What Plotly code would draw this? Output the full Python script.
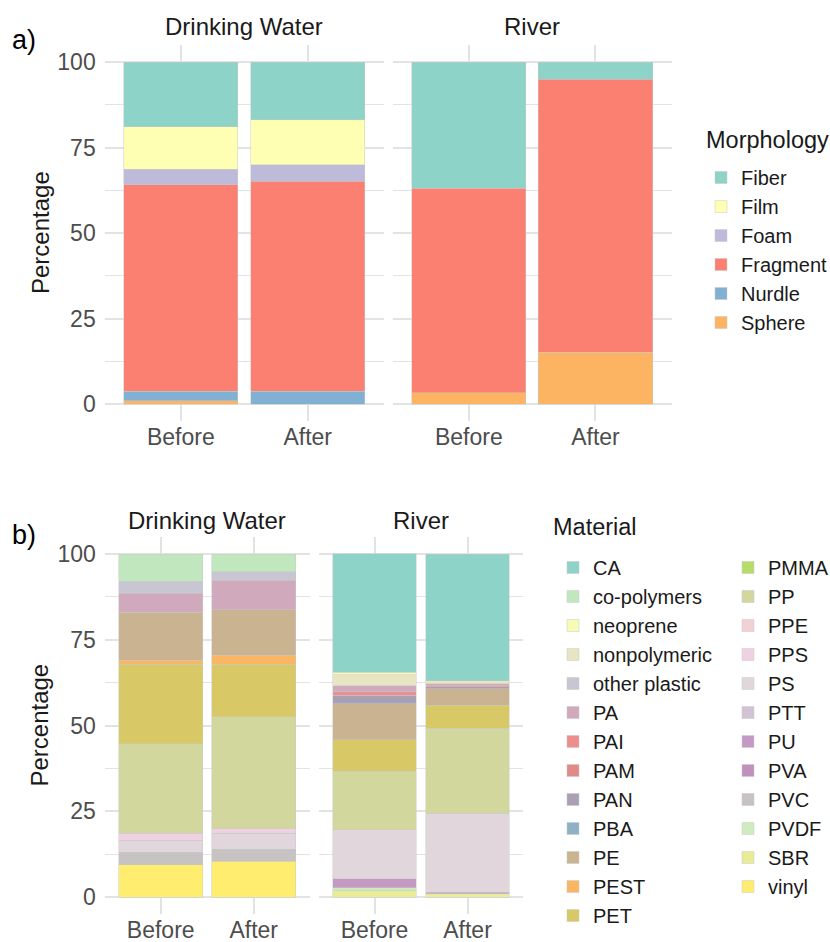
import plotly.graph_objects as go

# ---------------- data ----------------
FACETS = ["Drinking Water", "River"]
PERIODS = ["Before", "After"]
Y_TICKS = [0, 25, 50, 75, 100]

MORPH = ["Fiber", "Film", "Foam", "Fragment", "Nurdle", "Sphere"]
morph_dw_before = [19.0, 12.4, 4.5, 60.3, 2.8, 1.0]
morph_dw_after = [16.9, 13.2, 4.7, 61.5, 3.7, 0.0]
morph_river_before = [36.9, 0.0, 0.0, 59.8, 0.0, 3.3]
morph_river_after = [5.1, 0.0, 0.0, 79.8, 0.0, 15.1]

MATERIALS = ["CA", "co-polymers", "neoprene", "nonpolymeric", "other plastic", "PA", "PAI",
             "PAM", "PAN", "PBA", "PE", "PEST", "PET", "PMMA", "PP", "PPE", "PPS", "PS",
             "PTT", "PU", "PVA", "PVC", "PVDF", "SBR", "vinyl"]
#                  CA   co   neo  nonp oth  PA   PAI  PAM  PAN  PBA  PE    PEST PET   PMMA PP    PPE  PPS  PS    PTT  PU   PVA  PVC  PVDF SBR  vinyl
mat_dw_before =    [0.0, 8.0, 0.0, 0.0, 3.5, 5.5, 0.0, 0.0, 0.0, 0.0, 13.9, 1.2, 23.2, 0.0, 26.1, 0.0, 2.0, 3.6,  0.0, 0.0, 0.0, 3.6, 0.0, 0.0, 9.4]
mat_dw_after =     [0.0, 5.2, 0.0, 0.0, 2.4, 8.6, 0.0, 0.0, 0.0, 0.0, 13.3, 2.6, 15.3, 0.0, 32.7, 0.0, 1.3, 4.6,  0.0, 0.0, 0.0, 3.6, 0.0, 0.0, 10.4]
mat_river_before = [34.5, 0.0, 0.8, 3.2, 0.0, 1.7, 1.0, 0.0, 2.5, 0.0, 10.6, 0.0, 9.1, 0.0, 17.1, 0.0, 0.0, 14.3, 0.0, 2.6, 0.0, 0.0, 0.8, 1.9, 0.0]
mat_river_after =  [37.0, 0.0, 0.0, 0.8, 0.0, 0.5, 0.4, 0.0, 0.5, 0.0, 4.9, 0.0, 6.7, 0.0, 24.8, 0.0, 0.0, 23.0, 0.0, 0.5, 0.0, 0.0, 0.0, 0.9, 0.0]

# ---------------- styles ----------------
SET3 = ["#8DD3C7", "#FFFFB3", "#BEBADA", "#FB8072", "#80B1D3", "#FDB462",
        "#B3DE69", "#FCCDE5", "#D9D9D9", "#BC80BD", "#CCEBC5", "#FFED6F"]
MORPH_COLORS = SET3[:6]


def ramp(cols, n):
    rgb = [tuple(int(c[i:i + 2], 16) for i in (1, 3, 5)) for c in cols]
    out = []
    for k in range(n):
        pos = k * (len(rgb) - 1) / (n - 1)
        i = min(int(pos), len(rgb) - 2)
        f = pos - i
        c = [round(rgb[i][j] + (rgb[i + 1][j] - rgb[i][j]) * f) for j in range(3)]
        out.append("#%02X%02X%02X" % tuple(c))
    return out


MAT_COLORS = ramp(SET3, len(MATERIALS))

FONT = "Liberation Sans, Arial, Helvetica, sans-serif"
GRID = "#E3E3E3"
W, H = 830, 942


def px_x(p):                 # window pixel -> paper fraction
    return p / W


def px_y(p):
    return 1 - p / H


fig = go.Figure()

EDGE = dict(width=0.6, color="rgba(200,200,200,0.8)")


def add_group(names, colors, before_lists, axes, legends, splits=None):
    n = len(names)
    # add bottom-most category first so the first category ends up on top
    for idx in reversed(range(n)):
        for f, (xa, ya) in enumerate(axes):
            b = before_lists[f][0][idx]
            a = before_lists[f][1][idx]
            yv = [b if b > 0 else None, a if a > 0 else None]
            leg = legends[0] if (splits is None or idx < splits) else legends[1]
            fig.add_trace(go.Bar(
                x=PERIODS, y=yv, name=names[idx], xaxis=xa, yaxis=ya,
                marker=dict(color=colors[idx], line=EDGE),
                width=0.9, legendgroup=names[idx], showlegend=(f == 0),
                legend=leg, legendrank=idx + 1,
            ))


add_group(MORPH, MORPH_COLORS,
          [(morph_dw_before, morph_dw_after), (morph_river_before, morph_river_after)],
          [("x", "y"), ("x2", "y2")], ["legend"])
add_group(MATERIALS, MAT_COLORS,
          [(mat_dw_before, mat_dw_after), (mat_river_before, mat_river_after)],
          [("x3", "y3"), ("x4", "y4")], ["legend2", "legend3"], splits=13)

# panel geometry (window pixels)
ya_dom = [px_y(421.1), px_y(44.9)]
yb_dom = [px_y(914.2), px_y(536.9)]
x_doms = {
    "xaxis": [px_x(104.7), px_x(383.8)],
    "xaxis2": [px_x(392.8), px_x(671.5)],
    "xaxis3": [px_x(104.9), px_x(309.5)],
    "xaxis4": [px_x(318.7), px_x(523.3)],
}

TICKFONT = dict(family=FONT, size=23, color="#4D4D4D")
xcommon = dict(type="category", categoryorder="array", categoryarray=PERIODS,
               range=[-0.6, 1.6], showgrid=True, gridcolor=GRID, gridwidth=1.5,
               zeroline=False, showline=False, ticks="", ticklabelstandoff=0,
               automargin=False, tickfont=TICKFONT, fixedrange=True)
ycommon = dict(range=[-5, 105], tickvals=Y_TICKS, showgrid=True, gridcolor=GRID,
               gridwidth=1.5, zeroline=False, showline=False, ticks="",
               ticklabelstandoff=8, automargin=False,
               minor=dict(dtick=12.5, tick0=0, showgrid=True, gridcolor=GRID, gridwidth=1.2),
               tickfont=TICKFONT, fixedrange=True)

layout = dict(
    width=W, height=H, margin=dict(l=0, r=0, t=0, b=0, autoexpand=False),
    paper_bgcolor="white", plot_bgcolor="white",
    barmode="stack", bargap=0.1,
    font=dict(family=FONT, color="#1A1A1A"),
)
for i, (xk, dom) in enumerate(x_doms.items(), start=1):
    yk = "yaxis" if i == 1 else "yaxis%d" % i
    ydom = ya_dom if i <= 2 else yb_dom
    layout[xk] = dict(xcommon, domain=dom, anchor="y" if i == 1 else "y%d" % i)
    layout[yk] = dict(ycommon, domain=ydom, anchor="x" if i == 1 else "x%d" % i,
                      showticklabels=(i in (1, 3)))

LEGFONT = dict(family=FONT, size=20, color="#1A1A1A")
for key, xp, yp in (("legend", 701, 158), ("legend2", 553, 548), ("legend3", 728, 548)):
    layout[key] = dict(
        x=px_x(xp), y=px_y(yp), xanchor="left", yanchor="top",
        font=LEGFONT, bgcolor="rgba(0,0,0,0)",
        itemclick=False, itemdoubleclick=False, traceorder="normal",
    )

ann = []
# strip labels
for xk, yc in (("xaxis", 27), ("xaxis2", 27), ("xaxis3", 520), ("xaxis4", 520)):
    d = x_doms[xk]
    ann.append(dict(text=FACETS[0] if xk in ("xaxis", "xaxis3") else FACETS[1],
                    x=(d[0] + d[1]) / 2, y=px_y(yc), xref="paper", yref="paper",
                    showarrow=False, xanchor="center", yanchor="middle",
                    font=dict(family=FONT, size=24, color="#1A1A1A")))
# y titles
for yc in ((421.1 + 44.9) / 2, (914.2 + 536.9) / 2):
    ann.append(dict(text="Percentage", x=px_x(40), y=px_y(yc), xref="paper", yref="paper",
                    showarrow=False, textangle=-90, xanchor="center", yanchor="middle",
                    font=dict(family=FONT, size=24, color="#1A1A1A")))
# legend titles
for t, xl, yc in (("Morphology", 704, 140), ("Material", 551, 527)):
    ann.append(dict(text=t, x=px_x(xl), y=px_y(yc), xref="paper", yref="paper",
                    showarrow=False, xanchor="left", yanchor="middle",
                    font=dict(family=FONT, size=23.5, color="#1A1A1A")))
# panel tags
for t, yc in (("a)", 40), ("b)", 535)):
    ann.append(dict(text=t, x=px_x(10), y=px_y(yc), xref="paper", yref="paper",
                    showarrow=False, xanchor="left", yanchor="middle",
                    font=dict(family=FONT, size=27, color="#000000")))
layout["annotations"] = ann

fig.update_layout(**layout)
fig.write_html(
    "out.html",
    config={"displayModeBar": False, "staticPlot": False},
    post_script="document.body.style.margin='0';document.body.style.overflow='hidden';",
)
